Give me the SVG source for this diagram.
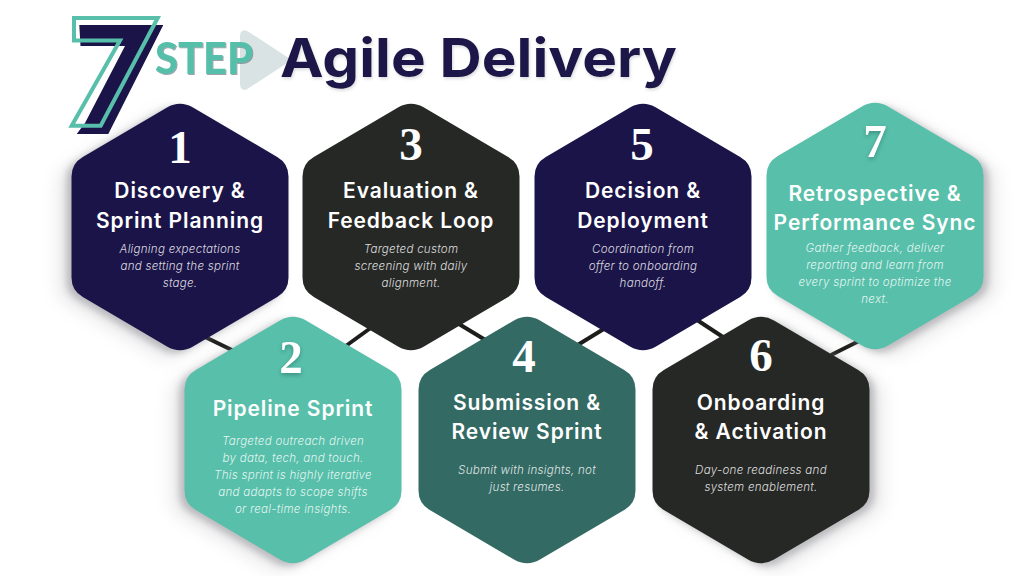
<svg xmlns="http://www.w3.org/2000/svg" width="1024" height="576" viewBox="0 0 1024 576">
<style>
.ttl{font-family:"Inter","Liberation Sans",sans-serif;font-weight:600;font-size:21px;letter-spacing:.9px;fill:#fff;text-anchor:middle}
.dsc{font-family:"Inter","Liberation Sans",sans-serif;font-style:italic;font-weight:300;font-size:11.600px;letter-spacing:.25px;fill:#fff;fill-opacity:.85;text-anchor:middle}
.num{font-family:"Liberation Serif",serif;font-weight:700;font-size:47px;fill:#fff;text-anchor:middle}
.soft{filter:drop-shadow(0 2px 2px rgba(0,40,40,.3))}
.line{stroke:#1d1d1b;stroke-width:4;fill:none}
.s1{fill:#77777e;opacity:.42}
.s2{fill:#9a9aa0;opacity:.2}
</style>
<defs>
<path id="hex" d="M-13,-119.500 Q0,-127 13,-119.500 L97.200,-70.100 Q108.500,-63.600 108.500,-50.600 V50.600 Q108.500,63.600 97.200,70.100 L13,119.500 Q0,127 -13,119.500 L-97.200,70.100 Q-108.500,63.600 -108.500,50.600 V-50.600 Q-108.500,-63.600 -97.200,-70.100 Z"/>
<filter id="b1" x="-30%" y="-30%" width="160%" height="160%"><feGaussianBlur stdDeviation="3.500"/></filter>
<filter id="b2" x="-30%" y="-30%" width="160%" height="160%"><feGaussianBlur stdDeviation="8"/></filter>
<filter id="ts" x="-5%" y="-20%" width="110%" height="150%"><feDropShadow dx="1" dy="2" stdDeviation="1.500" flood-color="#8a8a96" flood-opacity=".3"/></filter>
<filter id="ss" x="-5%" y="-20%" width="110%" height="150%"><feDropShadow dx="1" dy="1" stdDeviation=".6" flood-color="#55556a" flood-opacity=".55"/></filter>
</defs>
<rect width="1024" height="576" fill="#fff"/>
<g id="connectors">
<line class="line" x1="203" y1="336" x2="236" y2="352"/>
<line class="line" x1="343" y1="348" x2="372" y2="327"/>
<line class="line" x1="454" y1="321" x2="487" y2="341"/>
<line class="line" x1="576" y1="346" x2="607" y2="327"/>
<line class="line" x1="694" y1="318" x2="726" y2="339"/>
<line class="line" x1="831" y1="355" x2="861" y2="340"/>
</g>
<g id="header">
<path d="M79.300,25 H163.300 L108.300,134 H76.700 L85,123 L125,46 H80.500 Z" fill="#1b1449"/>
<path d="M74,18 H157.700 L100.700,125.700 H71.700 L120,40.500 H74 Z" fill="none" stroke="#57bfaa" stroke-width="4"/>
<path d="M247,32 Q241,29 241,37 V83 Q241,91 247,88 L290,60 Z" fill="#dae3e4" stroke="#dae3e4" stroke-width="2" stroke-linejoin="round"/>
<text x="155" y="74" font-family="Lato,'Liberation Sans',sans-serif" font-weight="900" font-size="44" fill="#57bfaa" filter="url(#ss)" textLength="98" lengthAdjust="spacingAndGlyphs">STEP</text>
<text x="280" y="77" font-family="Inter,'Liberation Sans',sans-serif" font-weight="700" font-size="54" fill="#1b1449" filter="url(#ts)" textLength="397" lengthAdjust="spacingAndGlyphs">Agile Delivery</text>
</g>
<g id="node-1">
<use href="#hex" x="166" y="235" class="s2" filter="url(#b2)"/>
<use href="#hex" x="175" y="230" class="s1" filter="url(#b1)"/>
<use href="#hex" x="180" y="227" fill="#1b1449"/>
<text class="num" x="180" y="163">1</text>
<text class="ttl" x="180" y="198">Discovery &amp;</text>
<text class="ttl" x="180" y="228">Sprint Planning</text>
<text class="dsc" x="180" y="253">Aligning expectations</text>
<text class="dsc" x="180" y="270">and setting the sprint</text>
<text class="dsc" x="180" y="287">stage.</text>
</g>
<g id="node-3">
<use href="#hex" x="411" y="227" fill="#262826"/>
<text class="num" x="411" y="160">3</text>
<text class="ttl" x="411" y="198">Evaluation &amp;</text>
<text class="ttl" x="411" y="228">Feedback Loop</text>
<text class="dsc" x="411" y="253">Targeted custom</text>
<text class="dsc" x="411" y="270">screening with daily</text>
<text class="dsc" x="411" y="287">alignment.</text>
</g>
<g id="node-5">
<use href="#hex" x="643" y="227" fill="#1b1449"/>
<text class="num" x="642" y="160">5</text>
<text class="ttl" x="643" y="198">Decision &amp;</text>
<text class="ttl" x="643" y="228">Deployment</text>
<text class="dsc" x="643" y="253">Coordination from</text>
<text class="dsc" x="643" y="270">offer to onboarding</text>
<text class="dsc" x="643" y="287">handoff.</text>
</g>
<g id="node-7">
<use href="#hex" x="889" y="233" class="s2" filter="url(#b2)"/>
<use href="#hex" x="880" y="229" class="s1" filter="url(#b1)"/>
<use href="#hex" x="875" y="226" fill="#57bfaa"/>
<text class="num soft" x="875" y="157">7</text>
<text class="ttl" x="875" y="201">Retrospective &amp;</text>
<text class="ttl" x="875" y="230">Performance Sync</text>
<text class="dsc" x="875" y="252">Gather feedback, deliver</text>
<text class="dsc" x="875" y="269">reporting and learn from</text>
<text class="dsc" x="875" y="286">every sprint to optimize the</text>
<text class="dsc" x="875" y="303">next.</text>
</g>
<g id="node-2">
<use href="#hex" x="279" y="448" class="s2" filter="url(#b2)"/>
<use href="#hex" x="288" y="443" class="s1" filter="url(#b1)"/>
<use href="#hex" x="293" y="440" fill="#57bfaa"/>
<text class="num soft" x="291" y="373">2</text>
<text class="ttl" x="293" y="416">Pipeline Sprint</text>
<text class="dsc" x="293" y="445">Targeted outreach driven</text>
<text class="dsc" x="293" y="462">by data, tech, and touch.</text>
<text class="dsc" x="293" y="479">This sprint is highly iterative</text>
<text class="dsc" x="293" y="496">and adapts to scope shifts</text>
<text class="dsc" x="293" y="513">or real-time insights.</text>
</g>
<g id="node-4">
<use href="#hex" x="527" y="440" fill="#346a64"/>
<text class="num" x="524" y="372">4</text>
<text class="ttl" x="527" y="410">Submission &amp;</text>
<text class="ttl" x="527" y="439">Review Sprint</text>
<text class="dsc" x="527" y="474">Submit with insights, not</text>
<text class="dsc" x="527" y="491">just resumes.</text>
</g>
<g id="node-6">
<use href="#hex" x="775" y="448" class="s2" filter="url(#b2)"/>
<use href="#hex" x="766" y="443" class="s1" filter="url(#b1)"/>
<use href="#hex" x="761" y="440" fill="#262826"/>
<text class="num" x="761" y="371">6</text>
<text class="ttl" x="761" y="410">Onboarding</text>
<text class="ttl" x="761" y="439">&amp; Activation</text>
<text class="dsc" x="761" y="474">Day-one readiness and</text>
<text class="dsc" x="761" y="491">system enablement.</text>
</g>
</svg>
